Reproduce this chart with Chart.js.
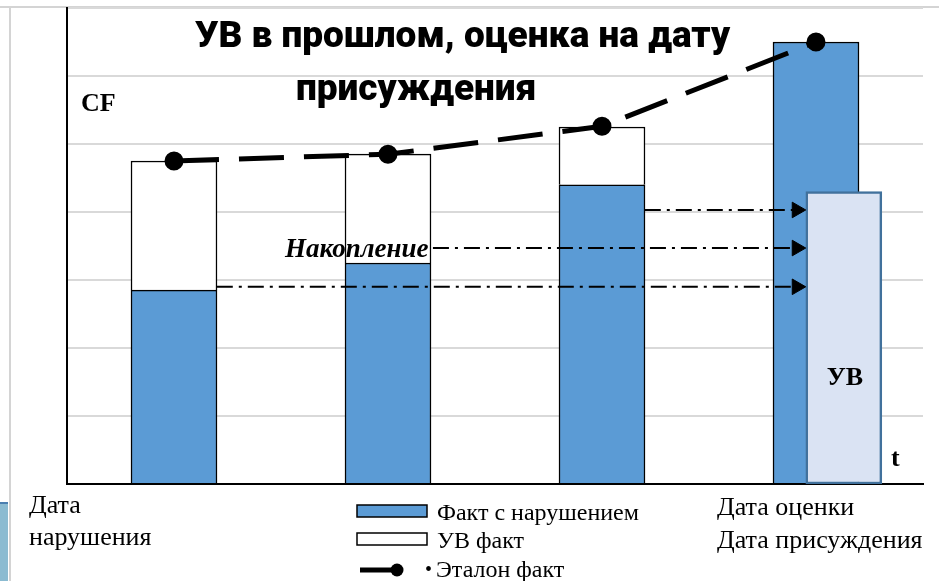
<!DOCTYPE html>
<html>
<head>
<meta charset="utf-8">
<script src="https://cdn.jsdelivr.net/npm/chart.js@4.4.1/dist/chart.umd.min.js"></script>
<style>
  html, body { margin: 0; padding: 0; background: #fff; }
  #wrap { width: 939px; height: 581px; }
</style>
</head>
<body>
<div id="wrap"><canvas id="chart" width="939" height="581"></canvas></div>
<script>
// периоды (ось t)
var categories = ["Дата нарушения", "Период 2", "Период 3", "Дата оценки"];
// значения CF
var faktNarush = [2.85, 3.25, 4.4, 6.5];
var uvFakt = [1.9, 1.6, 0.85, 0];
var etalonFakt = [4.75, 4.85, 5.26, 6.5];
// УВ на дату присуждения (позиция на оси времени 0..4)
var uvPosition = 3.63;
var uvValue = 4.3;
// стрелки "Накопление"
var arrowFrom = [0.70, 1.71, 2.70];
var arrowLevel = [2.9, 3.47, 4.03];
var arrowTo = 3.41;

var BLUE = "#5b9bd5";
var serif = "'Liberation Serif', 'Times New Roman', serif";

function arrowDataset(i) {
  return {
    type: "line",
    label: "arrow" + i,
    xAxisID: "x2",
    yAxisID: "yFree",
    data: [{ x: arrowFrom[i], y: arrowLevel[i] }, { x: arrowTo, y: arrowLevel[i] }],
    borderColor: "#000",
    borderWidth: 2,
    borderDash: [16, 6, 3, 6],
    pointStyle: "triangle",
    rotation: 90,
    pointRadius: [0, 9],
    pointBackgroundColor: "#000",
    pointBorderColor: "#000",
    pointBorderWidth: 1,
    order: 2,
  };
}

var decor = {
  id: "decor",
  beforeDraw: function (chart) {
    var ctx = chart.ctx;
    ctx.save();
    ctx.fillStyle = "#fff";
    ctx.fillRect(0, 0, chart.width, chart.height);
    // рамка слайда
    ctx.strokeStyle = "#d4d4d4";
    ctx.lineWidth = 2;
    ctx.beginPath();
    ctx.moveTo(0, 7);
    ctx.lineTo(chart.width, 7);
    ctx.moveTo(10, 7);
    ctx.lineTo(10, chart.height);
    ctx.stroke();
    ctx.fillStyle = "#8bbbd1";
    ctx.fillRect(0, 503, 8, 78);
    ctx.fillStyle = "#4a7fb0";
    ctx.fillRect(0, 502, 8, 2);
    ctx.restore();
  },
  afterDraw: function (chart) {
    var ctx = chart.ctx;
    var ds = chart.data.datasets;
    ctx.save();
    ctx.fillStyle = "#000";
    ctx.textBaseline = "alphabetic";

    ctx.font = "900 37px Roboto";
    ctx.fillText("УВ в прошлом, оценка на дату", 195, 47);
    ctx.fillText("присуждения", 296, 100);

    ctx.font = "bold 26px " + serif;
    ctx.fillText("CF", 81, 111);
    ctx.fillText("t", 891, 466);
    ctx.textAlign = "center";
    ctx.fillText("УВ", 845, 385);
    ctx.textAlign = "left";

    ctx.font = "italic bold 27px " + serif;
    ctx.fillText("Накопление", 285, 257);

    ctx.font = "26px " + serif;
    ctx.fillText("Дата", 29, 513);
    ctx.fillText("нарушения", 29, 545);
    ctx.fillText("Дата оценки", 717, 515);
    ctx.fillText("Дата присуждения", 717, 548);

    // легенда
    ctx.font = "24px " + serif;
    var rows = [520, 548, 577];
    for (var i = 0; i < 2; i++) {
      ctx.fillStyle = ds[i].backgroundColor;
      ctx.fillRect(357, rows[i] - 15, 70, 12);
      ctx.strokeStyle = "#000";
      ctx.lineWidth = 1.5;
      ctx.strokeRect(357, rows[i] - 15, 70, 12);
      ctx.fillStyle = "#000";
      ctx.fillText(ds[i].label, 437, rows[i]);
    }
    var e = ds[2];
    ctx.strokeStyle = e.borderColor;
    ctx.lineWidth = e.borderWidth;
    ctx.beginPath();
    ctx.moveTo(360, rows[2] - 7);
    ctx.lineTo(397, rows[2] - 7);
    ctx.stroke();
    ctx.fillStyle = e.pointBackgroundColor;
    ctx.beginPath();
    ctx.arc(397, rows[2] - 7, 6.5, 0, Math.PI * 2);
    ctx.fill();
    ctx.font = "20px " + serif;
    ctx.fillText("•", 425, rows[2] - 1);
    ctx.font = "24px " + serif;
    ctx.fillText(e.label, 436, rows[2]);
    ctx.restore();
  },
};

var ctx = document.getElementById("chart").getContext("2d");
var chart = new Chart(ctx, {
  type: "bar",
  data: {
    labels: categories,
    datasets: [
      {
        label: "Факт с нарушением",
        data: faktNarush,
        backgroundColor: BLUE,
        borderColor: "#000",
        borderWidth: 1.5,
        stack: "cf",
        grouped: false,
        barThickness: 86,
        order: 5,
      },
      {
        label: "УВ факт",
        data: uvFakt,
        backgroundColor: "#ffffff",
        borderColor: "#000",
        borderWidth: 1.5,
        stack: "cf",
        grouped: false,
        barThickness: 86,
        order: 5,
      },
      {
        type: "line",
        label: "Эталон факт",
        data: etalonFakt,
        yAxisID: "yFree",
        borderColor: "#000",
        borderWidth: 5,
        borderDash: [45, 20],
        borderCapStyle: "butt",
        tension: 0,
        pointRadius: 7,
        pointBackgroundColor: "#000",
        pointBorderColor: "#000",
        order: 1,
      },
      {
        label: "УВ",
        xAxisID: "x2",
        yAxisID: "yFree",
        data: [{ x: uvPosition, y: uvValue }],
        backgroundColor: "#dae3f3",
        borderColor: "#41719c",
        borderWidth: 2.5,
        borderSkipped: false,
        barThickness: 76,
        grouped: false,
        order: 3,
      },
      arrowDataset(0),
      arrowDataset(1),
      arrowDataset(2),
    ],
  },
  options: {
    responsive: false,
    animation: false,
    layout: { autoPadding: false, padding: { left: 67, right: 16, top: 8, bottom: 97 } },
    categoryPercentage: 1,
    barPercentage: 0.4,
    plugins: {
      legend: { display: false },
      tooltip: { enabled: false },
    },
    scales: {
      x: {
        stacked: true,
        offset: true,
        grid: { display: false, drawTicks: false },
        ticks: { display: false },
        border: { color: "#000", width: 2 },
      },
      x2: {
        type: "linear",
        display: false,
        min: 0,
        max: 4,
        offset: false,
      },
      y: {
        stacked: true,
        min: 0,
        max: 7,
        ticks: { display: false, stepSize: 1 },
        grid: { color: "#d9d9d9", lineWidth: 2, drawTicks: false },
        border: { color: "#000", width: 2 },
      },
      yFree: {
        display: false,
        min: 0,
        max: 7,
      },
    },
  },
  plugins: [decor],
});
</script>
</body>
</html>
